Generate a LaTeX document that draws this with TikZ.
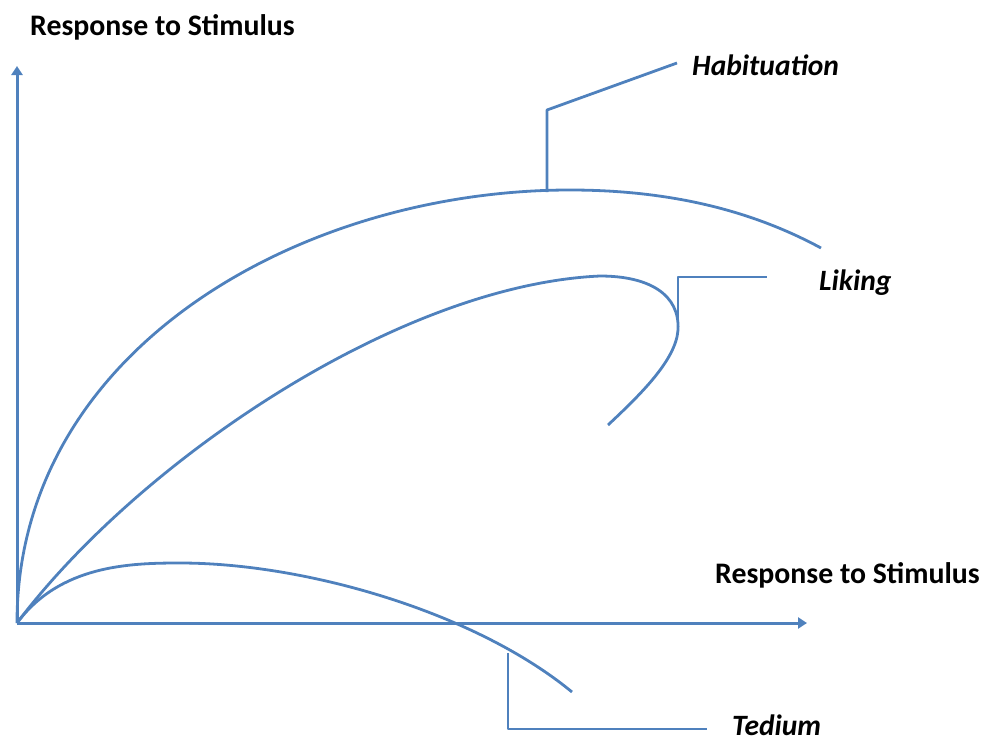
\documentclass[tikz,border=0pt]{standalone}
\usepackage{fontspec}
\setmainfont{Carlito}
\usetikzlibrary{arrows.meta}
\definecolor{curveblue}{HTML}{4F81BD}
\begin{document}
\begin{tikzpicture}[x=1pt,y=-1pt,
  curve/.style={draw=curveblue,line width=2.8pt,line join=round},
  axis/.style={draw=curveblue,line width=3pt,-{Triangle[length=9pt,width=11pt]}},
  axlabel/.style={font=\bfseries\fontsize{29.8}{34}\selectfont,inner sep=0pt,anchor=base west},
  tag/.style={font=\bfseries\itshape\fontsize{29.5}{34}\selectfont,inner sep=0pt,anchor=base west}]
\useasboundingbox (0,0) rectangle (983,742);

% axes
\coordinate (O) at (17,623);
\coordinate (ytop) at (17,66);
\coordinate (xend) at (807,623);
\draw[axis] (O) -- (ytop);
\draw[axis] (O) -- (xend);
\node[axlabel] (ylab) at (30,35) {Response to Stimulus};
\node[axlabel] (xlab) at (715,583) {Response to Stimulus};

% habituation curve
\coordinate (habpeak) at (570,190);
\coordinate (habend) at (821,248);
\draw[curve] (O) .. controls (17,350) and (300,190) .. (habpeak)
  .. controls (680,190) and (760,215) .. (habend);

% liking curve
\coordinate (likpeak) at (600,276);
\coordinate (likturn) at (678,330);
\coordinate (likend) at (608,425);
\draw[curve] (O) .. controls (140,460) and (400,285) .. (likpeak)
  .. controls (650,276) and (680,295) .. (likturn)
  .. controls (676,360) and (640,395) .. (likend);

% tedium curve
\coordinate (tedpeak) at (180,563);
\coordinate (tedend) at (572,692);
\draw[curve] (O) .. controls (60,565) and (130,563) .. (tedpeak)
  .. controls (305,563) and (475,612) .. (tedend);

% labels
\node[tag] (hab) at (692,75) {Habituation};
\node[tag] (lik) at (819,290) {Liking};
\node[tag] (ted) at (732,735) {Tedium};

% leader lines
\coordinate (habfoot) at (547,192);
\coordinate (habknee) at (547,110);
\coordinate (habtip) at (677,63);
\draw[curve] (habfoot) -- (habknee) -- (habtip);

\coordinate (likfoot) at (678,318);
\coordinate (liktip) at (767,277);
\draw[curve] (likfoot) |- (liktip);

\coordinate (tedfoot) at (508,653);
\coordinate (tedtip) at (707,729);
\draw[curve] (tedfoot) |- (tedtip);
\end{tikzpicture}
\end{document}
